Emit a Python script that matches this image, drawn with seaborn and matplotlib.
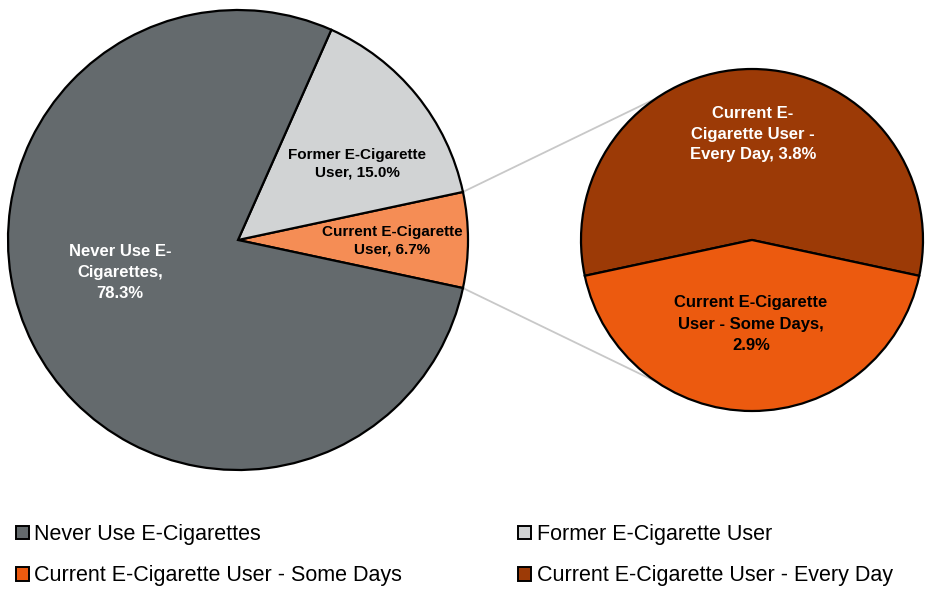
from __future__ import annotations

import matplotlib
matplotlib.use("Agg")
import matplotlib.pyplot as plt
from matplotlib import font_manager
from matplotlib.patches import Patch
import numpy as np
import seaborn as sns


# main pie
MAIN_LABELS = ["Current E-Cigarette User", "Former E-Cigarette User", "Never Use E-Cigarettes"]
MAIN_VALUES = [6.7, 15.0, 78.3]
MAIN_COLORS = ["#F58D55", "#D1D3D4", "#646A6D"]

# breakdown of current users
SUB_LABELS = ["Current E-Cigarette User - Every Day", "Current E-Cigarette User - Some Days"]
SUB_VALUES = [3.8, 2.9]
SUB_COLORS = ["#9C3A06", "#EC5A0F"]

W, H = 934, 590


def pick_fonts() -> list[str]:
    available = {f.name for f in font_manager.fontManager.ttflist}
    return [n for n in ["Liberation Sans", "Arial", "DejaVu Sans"] if n in available]


def main() -> None:
    sns.set_theme(style="white")
    matplotlib.rcParams["font.family"] = pick_fonts()

    fig = plt.figure(figsize=(W / 100, H / 100), dpi=100)
    ax = fig.add_axes([0, 0, 1, 1])

    big_c, big_r = (238, H - 240), 230
    small_c, small_r = (752, H - 240), 171

    edge = {"edgecolor": "black", "linewidth": 1.6}
    half = MAIN_VALUES[0] / sum(MAIN_VALUES) * 180
    ax.pie(MAIN_VALUES, colors=MAIN_COLORS, startangle=-half, counterclock=True,
           center=big_c, radius=big_r, wedgeprops=edge, frame=True)

    sub_start = 90 - SUB_VALUES[0] / sum(SUB_VALUES) * 180
    ax.pie(SUB_VALUES, colors=SUB_COLORS, startangle=sub_start, counterclock=True,
           center=small_c, radius=small_r, wedgeprops=edge, frame=True)
    ax.set_xlim(0, W)
    ax.set_ylim(0, H)
    ax.set_aspect("equal")
    ax.axis("off")

    # connector lines from the current-user slice to the breakdown pie
    for sgn in (1, -1):
        a1 = np.deg2rad(sgn * half)
        a2 = np.deg2rad(180 - sgn * 56)
        p1 = (big_c[0] + big_r * np.cos(a1), big_c[1] + big_r * np.sin(a1))
        p2 = (small_c[0] + small_r * np.cos(a2), small_c[1] + small_r * np.sin(a2))
        ax.plot([p1[0], p2[0]], [p1[1], p2[1]], color="#C8C8C8", lw=1.3, zorder=0)

    txt = dict(ha="center", va="center", fontweight="bold")
    ax.text(120, H - 272, f"Never Use E-\nCigarettes,\n{MAIN_VALUES[2]:.1f}%",
            color="white", fontsize=12, linespacing=1.5, **txt)
    ax.text(357, H - 164, f"Former E-Cigarette\nUser, {MAIN_VALUES[1]:.1f}%",
            color="black", fontsize=11, linespacing=1.35, **txt)
    ax.text(392, H - 241, f"Current E-Cigarette\nUser, {MAIN_VALUES[0]:.1f}%",
            color="black", fontsize=11, linespacing=1.35, **txt)
    ax.text(753, H - 134, f"Current E-\nCigarette User -\nEvery Day, {SUB_VALUES[0]:.1f}%",
            color="white", fontsize=12, linespacing=1.5, **txt)
    ax.text(751, H - 324, f"Current E-Cigarette\nUser - Some Days,\n{SUB_VALUES[1]:.1f}%",
            color="black", fontsize=12, linespacing=1.5, **txt)

    # legend: column-major order
    entries = [
        (MAIN_LABELS[2], MAIN_COLORS[2]),
        (SUB_LABELS[1], SUB_COLORS[1]),
        (MAIN_LABELS[1], MAIN_COLORS[1]),
        (SUB_LABELS[0], SUB_COLORS[0]),
    ]
    handles = [Patch(facecolor=c, edgecolor="black", linewidth=1.4, label=l) for l, c in entries]
    fig.legend(handles=handles, ncol=2, loc="upper left", bbox_to_anchor=(16 / W, 1 - 524 / H),
               frameon=False, prop={"size": 15.5}, labelcolor="black",
               handlelength=0.6, handleheight=0.6, handletextpad=0.25,
               labelspacing=0.95, columnspacing=5.4, borderpad=0, borderaxespad=0)

    fig.savefig("out.png", dpi=100)
    plt.close(fig)


if __name__ == "__main__":
    main()
